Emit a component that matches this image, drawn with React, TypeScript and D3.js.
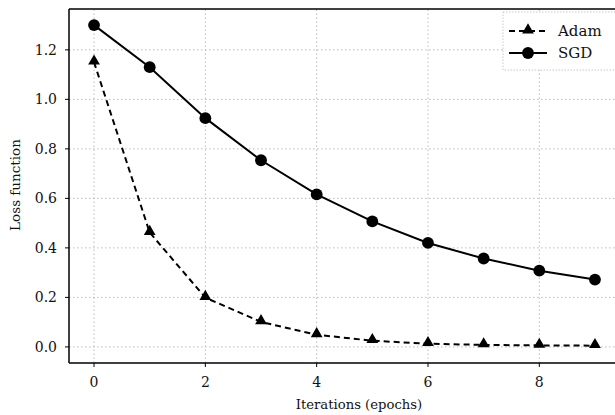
import React from "react";
import * as d3 from "d3";

const epochs = [0, 1, 2, 3, 4, 5, 6, 7, 8, 9];
const adamLoss = [1.15, 0.462, 0.199, 0.101, 0.049, 0.025, 0.013, 0.008, 0.006, 0.005];
const sgdLoss = [1.30, 1.13, 0.924, 0.754, 0.616, 0.507, 0.42, 0.357, 0.308, 0.272];
const xTicks = [0, 2, 4, 6, 8];
const yTicks = [0.0, 0.2, 0.4, 0.6, 0.8, 1.0, 1.2];
const seriesNames = ["Adam", "SGD"];

const W = 615;
const H = 415;
const margin = { left: 69, top: 9, right: -5, bottom: 52 };
const FONT = "'DejaVu Serif', 'Liberation Serif', serif";

export default function App() {
  const x = d3.scaleLinear().domain([-0.45, 9.45]).range([margin.left, W - margin.right]);
  const y = d3.scaleLinear().domain([-0.065, 1.365]).range([H - margin.bottom, margin.top]);
  const line = d3
    .line<number>()
    .x((_, i) => x(epochs[i]))
    .y((d) => y(d));
  const tri = d3.symbol().type(d3.symbolTriangle).size(60)();
  const circ = d3.symbol().type(d3.symbolCircle).size(110)();

  const x0 = margin.left;
  const x1 = W - margin.right;
  const y0 = H - margin.bottom;
  const y1 = margin.top;

  return (
    <svg width={W} height={H} style={{ position: "absolute", left: 0, top: 0, background: "#fff" }}>
      <defs>
        <clipPath id="plot">
          <rect x={x0} y={y1} width={x1 - x0} height={y0 - y1} />
        </clipPath>
      </defs>
      {/* grid */}
      <g stroke="#aaa" strokeWidth={0.8} strokeDasharray="1.5,2.5">
        {xTicks.map((t) => (
          <line key={"gx" + t} x1={x(t)} x2={x(t)} y1={y0} y2={y1} />
        ))}
        {yTicks.map((t) => (
          <line key={"gy" + t} x1={x0} x2={x1} y1={y(t)} y2={y(t)} />
        ))}
      </g>
      <g clipPath="url(#plot)">
        <path d={line(adamLoss) || ""} fill="none" stroke="#000" strokeWidth={2} strokeDasharray="6,4" />
        <path d={line(sgdLoss) || ""} fill="none" stroke="#000" strokeWidth={2} />
        {adamLoss.map((v, i) => (
          <path key={"a" + i} d={tri || ""} transform={`translate(${x(epochs[i])},${y(v) - 1})`} fill="#000" />
        ))}
        {sgdLoss.map((v, i) => (
          <path key={"s" + i} d={circ || ""} transform={`translate(${x(epochs[i])},${y(v)})`} fill="#000" />
        ))}
      </g>
      {/* spines */}
      <g stroke="#000" strokeWidth={1.5} fill="none">
        <line x1={x0} x2={x0} y1={y0} y2={y1} />
        <line x1={x0} x2={x1} y1={y0} y2={y0} />
        <line x1={x0} x2={x1} y1={y1} y2={y1} />
      </g>
      {/* ticks */}
      <g stroke="#000" strokeWidth={1}>
        {xTicks.map((t) => (
          <line key={"tx" + t} x1={x(t)} x2={x(t)} y1={y0} y2={y0 + 4} />
        ))}
        {yTicks.map((t) => (
          <line key={"ty" + t} x1={x0} x2={x0 - 4} y1={y(t)} y2={y(t)} />
        ))}
      </g>
      <g fontFamily={FONT} fill="#111">
        {xTicks.map((t) => (
          <text key={"lx" + t} x={x(t)} y={y0 + 24} textAnchor="middle" fontSize={14}>
            {d3.format("d")(t)}
          </text>
        ))}
        {yTicks.map((t) => (
          <text key={"ly" + t} x={x0 - 12} y={y(t) + 5} textAnchor="end" fontSize={14}>
            {d3.format(".1f")(t)}
          </text>
        ))}
        <text x={359} y={409} textAnchor="middle" fontSize={13.2}>
          Iterations (epochs)
        </text>
        <text transform={`translate(20,185) rotate(-90)`} textAnchor="middle" fontSize={13.5}>
          Loss function
        </text>
      </g>
      {/* legend */}
      <g>
        <rect x={503} y={12} width={130} height={58} fill="#fff" stroke="#bbb" strokeWidth={0.8} strokeDasharray="1.5,1.5" />
        <line x1={509} x2={547} y1={31} y2={31} stroke="#000" strokeWidth={2} strokeDasharray="6,4" />
        <path d={tri || ""} transform="translate(528,30)" fill="#000" />
        <line x1={509} x2={547} y1={53} y2={53} stroke="#000" strokeWidth={2} />
        <path d={circ || ""} transform="translate(528,53)" fill="#000" />
        <text x={558} y={36} fontFamily={FONT} fontSize={15} fill="#111">{seriesNames[0]}</text>
        <text x={558} y={58} fontFamily={FONT} fontSize={15} fill="#111">{seriesNames[1]}</text>
      </g>
    </svg>
  );
}
